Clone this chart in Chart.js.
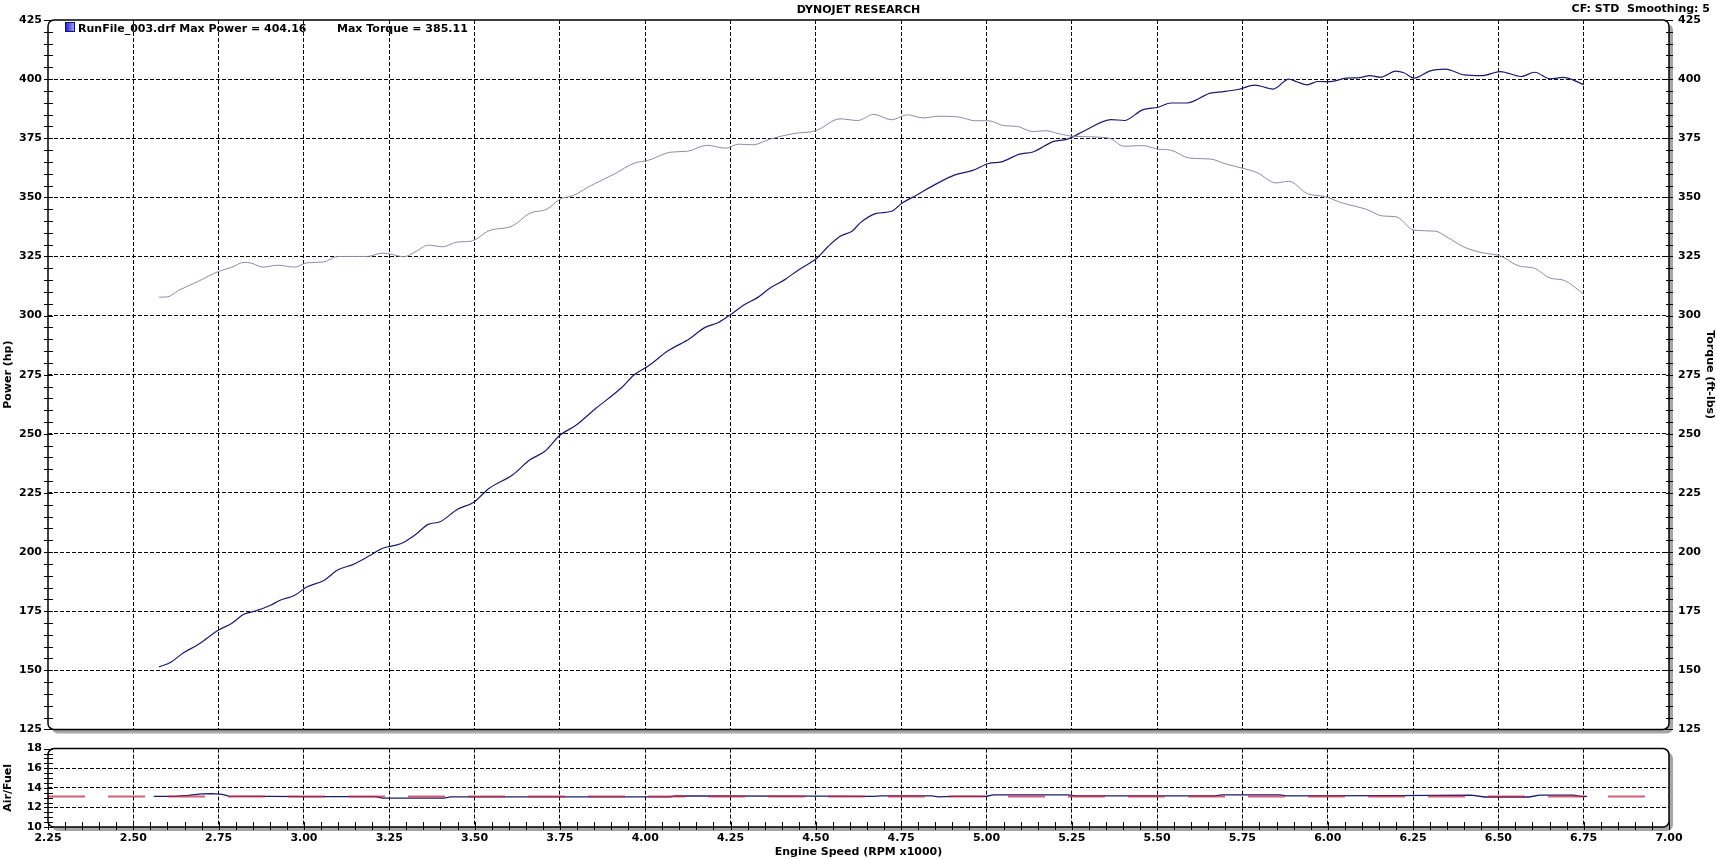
<!DOCTYPE html>
<html><head><meta charset="utf-8">
<script src="https://cdn.jsdelivr.net/npm/chart.js@4.4.1/dist/chart.umd.min.js"></script>
<style>
html,body{margin:0;padding:0;background:#fff;width:1717px;height:859px;overflow:hidden;position:relative;}
canvas{position:absolute;left:0;}
#main{top:0;}
#afr{top:736px;}
.txt{position:absolute;font:bold 11px "DejaVu Sans",Verdana,sans-serif;color:#000;white-space:pre;line-height:14px;}
</style></head><body>
<canvas id="main" width="1717" height="745"></canvas>
<canvas id="afr" width="1717" height="123"></canvas>
<div class="txt" style="left:0;width:1717px;text-align:center;top:3px;">DYNOJET RESEARCH</div>
<div class="txt" style="right:7px;top:2px;">CF: STD  Smoothing: 5</div>
<div style="position:absolute;left:65px;top:22px;width:8px;height:8px;border:1px solid #10107a;background:linear-gradient(to right,#2424c8,#a0a0f4);"></div>
<div class="txt" style="left:78px;top:22px;">RunFile_003.drf Max Power = 404.16</div>
<div class="txt" style="left:337px;top:22px;">Max Torque = 385.11</div>
<script>
// ---- data ----
const powerRpm = [2.575,2.611,2.646,2.689,2.75,2.788,2.824,2.859,2.902,2.93,2.973,3.008,3.058,3.10,3.143,3.193,3.229,3.285,3.328,3.364,3.399,3.449,3.499,3.541,3.612,3.662,3.705,3.75,3.797,3.854,3.932,3.967,4.01,4.067,4.13,4.173,4.216,4.251,4.29,4.33,4.365,4.408,4.45,4.50,4.536,4.571,4.607,4.63,4.677,4.722,4.753,4.791,4.853,4.906,4.96,5.006,5.044,5.097,5.136,5.197,5.235,5.289,5.365,5.404,5.457,5.503,5.541,5.587,5.656,5.695,5.74,5.786,5.84,5.886,5.909,5.94,5.97,6.008,6.054,6.093,6.123,6.154,6.20,6.223,6.253,6.30,6.345,6.399,6.452,6.506,6.567,6.606,6.652,6.69,6.72,6.75];
const powerHp = [151.4,153.5,157.3,160.8,167.0,169.8,173.7,175.1,177.5,179.6,181.7,185.2,188.0,192.5,194.7,198.5,201.5,203.6,207.5,211.7,212.8,218.0,221.2,226.8,232.7,239.0,242.5,249.4,253.6,260.6,269.7,274.9,278.8,285.1,290.2,294.8,297.2,300.5,304.6,307.7,311.6,315.1,319.4,323.9,329.2,333.5,335.8,339.2,343.2,344.1,347.6,350.6,355.7,359.4,361.4,364.3,365.0,368.3,369.2,373.7,374.5,378.3,382.9,382.5,387.0,388.1,389.9,389.9,394.1,394.7,395.7,397.5,395.8,400.0,398.9,397.6,399.0,398.9,400.4,400.6,401.5,400.8,403.4,402.7,400.4,403.5,404.2,401.8,401.5,403.2,401.1,402.9,400.1,400.7,399.6,397.6];
const torqueRpm = [2.575,2.60,2.632,2.689,2.75,2.788,2.824,2.845,2.88,2.923,2.973,3.008,3.058,3.10,3.186,3.229,3.25,3.293,3.328,3.364,3.406,3.449,3.491,3.541,3.612,3.662,3.712,3.75,3.79,3.84,3.91,3.967,4.01,4.074,4.124,4.18,4.237,4.273,4.315,4.365,4.436,4.50,4.571,4.623,4.669,4.722,4.768,4.814,4.86,4.921,4.967,5.006,5.052,5.09,5.136,5.174,5.212,5.258,5.358,5.404,5.457,5.503,5.541,5.595,5.656,5.702,5.748,5.794,5.848,5.886,5.94,5.993,6.039,6.116,6.161,6.20,6.253,6.315,6.353,6.399,6.452,6.506,6.56,6.606,6.652,6.69,6.75];
const torqueFtlb = [307.8,307.9,310.6,314.4,318.7,320.4,322.5,322.2,320.5,321.3,320.5,322.3,322.7,325.0,325.0,326.4,326.1,324.9,327.1,329.8,329.1,331.1,331.5,335.8,338.0,343.3,345.0,349.2,350.8,354.9,359.9,364.4,365.7,369.1,369.5,372.0,370.8,372.5,372.2,374.6,377.0,378.2,383.2,382.5,385.1,382.8,384.9,383.6,384.3,383.9,382.4,382.4,380.3,380.0,377.8,378.2,376.9,375.8,375.1,371.6,371.9,370.4,369.9,366.6,366.2,364.1,362.4,360.4,356.1,356.8,351.6,350.3,347.8,344.8,342.1,341.8,336.1,335.7,332.9,329.0,326.6,325.2,321.0,320.0,315.8,315.0,309.1];
const afrRpm = [2.56,2.62,2.66,2.70,2.73,2.76,2.78,2.90,3.00,3.21,3.23,3.41,3.43,4.07,4.09,4.50,4.67,4.69,4.84,4.86,4.90,5.00,5.02,5.24,5.26,5.67,5.69,5.86,5.88,6.20,6.42,6.46,6.59,6.62,6.72,6.74,6.76];
const afrValue = [13.13,13.13,13.22,13.38,13.40,13.32,13.15,13.12,13.10,13.10,12.95,12.95,13.08,13.08,13.17,13.15,13.13,13.17,13.17,13.08,13.12,13.14,13.27,13.27,13.17,13.17,13.27,13.27,13.17,13.20,13.26,13.06,13.06,13.26,13.26,13.13,13.13];
const afrTargetRpm = [2.25, 7.00];
const afrTargetValue = [13.1, 13.1];
const powerTickLabels = [125,150,175,200,225,250,275,300,325,350,375,400,425];
const afrTickLabels = [10,12,14,16,18];
const rpmTickLabels = ['2.25','2.50','2.75','3.00','3.25','3.50','3.75','4.00','4.25','4.50','4.75','5.00','5.25','5.50','5.75','6.00','6.25','6.50','6.75','7.00'];

// ---- helpers ----
const pts = (xs, ys) => xs.map((x, i) => ({x: x, y: ys[i]}));
const FONT = {family: '"DejaVu Sans", Verdana, sans-serif', size: 11, weight: 'bold'};
const CLEAR = 'rgba(0,0,0,0)';
const DASH = [4, 2];

function rr(ctx, x, y, w, h, r) {
  ctx.beginPath();
  ctx.moveTo(x + r, y);
  ctx.arcTo(x + w, y, x + w, y + h, r);
  ctx.arcTo(x + w, y + h, x, y + h, r);
  ctx.arcTo(x, y + h, x, y, r);
  ctx.arcTo(x, y, x + w, y, r);
  ctx.closePath();
}
const framePlugin = {
  id: 'dynoFrame',
  beforeDraw(chart) {
    const {ctx, chartArea: a} = chart;
    ctx.save();
    ctx.fillStyle = '#a6a6a6';
    rr(ctx, a.left + 4, a.top + 4, a.right - a.left, a.bottom - a.top, 6); ctx.fill();
    ctx.fillStyle = '#fff';
    rr(ctx, a.left, a.top, a.right - a.left, a.bottom - a.top, 6); ctx.fill();
    ctx.restore();
  },
  afterDraw(chart, args, opts) {
    const {ctx, chartArea: a} = chart;
    ctx.save();
    ctx.strokeStyle = '#000'; ctx.lineWidth = 1.5;
    rr(ctx, a.left, a.top, a.right - a.left, a.bottom - a.top, 6); ctx.stroke();
    ctx.lineWidth = 1;
    ctx.beginPath();
    const yl = chart.scales[opts.leftAxis];
    yl.ticks.forEach(t => { const p = Math.round(yl.getPixelForValue(t.value)) + 0.5; ctx.moveTo(a.left - 4, p); ctx.lineTo(a.left + 5, p); });
    if (opts.rightAxis) {
      const yr = chart.scales[opts.rightAxis];
      yr.ticks.forEach(t => { const p = Math.round(yr.getPixelForValue(t.value)) + 0.5; ctx.moveTo(a.right - 3, p); ctx.lineTo(a.right + 4, p); });
    }
    if (opts.bottomAxis) {
      const xs = chart.scales[opts.bottomAxis];
      xs.ticks.forEach(t => { const p = Math.round(xs.getPixelForValue(t.value)) + 0.5; ctx.moveTo(p, a.bottom - 5); ctx.lineTo(p, a.bottom + 3); });
    }
    ctx.stroke();
    ctx.restore();
  }
};

const isRpmMajor = v => rpmTickLabels.includes(v.toFixed(2));

// ---- main chart ----
new Chart(document.getElementById('main'), {
  type: 'line',
  data: {
    datasets: [
      {label: 'Torque', data: pts(torqueRpm, torqueFtlb), yAxisID: 'y2', borderColor: '#8c8cac', borderWidth: 1, pointRadius: 0, cubicInterpolationMode: 'monotone', fill: false},
      {label: 'Power', data: pts(powerRpm, powerHp), yAxisID: 'y', borderColor: '#1b1b6b', borderWidth: 1.2, pointRadius: 0, cubicInterpolationMode: 'monotone', fill: false}
    ]
  },
  options: {
    responsive: false, animation: false, devicePixelRatio: 1,
    layout: {padding: {top: 20, bottom: 11, left: 0, right: 0}},
    plugins: {legend: {display: false}, tooltip: {enabled: false}, dynoFrame: {leftAxis: 'y', rightAxis: 'y2'}},
    scales: {
      x: {
        type: 'linear', min: 2.25, max: 7.0,
        ticks: {display: false, stepSize: 0.25},
        grid: {drawTicks: false, color: c => (c.tick && c.tick.value > 2.26 && c.tick.value < 6.99) ? '#000' : CLEAR, lineWidth: 1},
        border: {display: false, dash: DASH},
        afterFit: s => { s.height = 0; }
      },
      y: {
        type: 'linear', position: 'left', min: 125, max: 425,
        ticks: {stepSize: 5, autoSkip: false, padding: 6, color: '#000', font: FONT,
          callback: v => powerTickLabels.includes(v) ? String(v) : ''},
        grid: {drawTicks: false, color: c => (c.tick && powerTickLabels.includes(c.tick.value) && c.tick.value > 125 && c.tick.value < 425) ? '#000' : CLEAR},
        border: {display: false, dash: DASH},
        title: {display: true, text: 'Power (hp)', color: '#000', font: FONT, padding: {top: 2, bottom: 0}},
        afterFit: s => { s.width = 48; }
      },
      y2: {
        type: 'linear', position: 'right', min: 125, max: 425,
        ticks: {stepSize: 5, autoSkip: false, padding: 9, color: '#000', font: FONT,
          callback: v => powerTickLabels.includes(v) ? String(v) : ''},
        grid: {display: false, drawTicks: false, drawOnChartArea: false},
        border: {display: false},
        title: {display: true, text: 'Torque (ft-lbs)', color: '#000', font: FONT, padding: {top: 1, bottom: 0}},
        afterFit: s => { s.width = 48; }
      }
    }
  },
  plugins: [framePlugin]
});

// ---- air/fuel chart ----
new Chart(document.getElementById('afr'), {
  type: 'line',
  data: {
    datasets: [
      {label: 'AFR target', data: pts(afrTargetRpm, afrTargetValue), borderColor: 'rgba(196,40,72,0.75)', borderWidth: 2, borderDash: [37, 23], pointRadius: 0, tension: 0},
      {label: 'Air/Fuel', data: pts(afrRpm, afrValue), borderColor: '#1b1b6b', borderWidth: 1.3, pointRadius: 0, tension: 0}
    ]
  },
  options: {
    responsive: false, animation: false, devicePixelRatio: 1,
    layout: {padding: {top: 9, bottom: 0, left: 0, right: 48}},
    plugins: {legend: {display: false}, tooltip: {enabled: false}, dynoFrame: {leftAxis: 'y', bottomAxis: 'x'}},
    scales: {
      x: {
        type: 'linear', min: 2.25, max: 7.0,
        ticks: {stepSize: 0.05, autoSkip: false, maxRotation: 0, padding: 5, color: '#000', font: FONT,
          callback: v => isRpmMajor(v) ? v.toFixed(2) : ''},
        grid: {drawTicks: false, color: c => (c.tick && isRpmMajor(c.tick.value) && c.tick.value > 2.26 && c.tick.value < 6.99) ? '#000' : CLEAR},
        border: {display: false, dash: DASH},
        title: {display: true, text: 'Engine Speed (RPM x1000)', color: '#000', font: FONT, padding: {top: 0, bottom: 0}},
        afterFit: s => { s.height = 32; }
      },
      y: {
        type: 'linear', position: 'left', min: 10, max: 18,
        ticks: {stepSize: 0.5, autoSkip: false, padding: 6, color: '#000', font: FONT,
          callback: v => afrTickLabels.includes(v) ? String(v) : ''},
        grid: {drawTicks: false, color: c => (c.tick && afrTickLabels.includes(c.tick.value) && c.tick.value > 10 && c.tick.value < 18) ? '#000' : CLEAR},
        border: {display: false, dash: DASH},
        title: {display: true, text: 'Air/Fuel', color: '#000', font: FONT, padding: {top: 2, bottom: 0}},
        afterFit: s => { s.width = 48; }
      }
    }
  },
  plugins: [framePlugin]
});
</script>
</body></html>
